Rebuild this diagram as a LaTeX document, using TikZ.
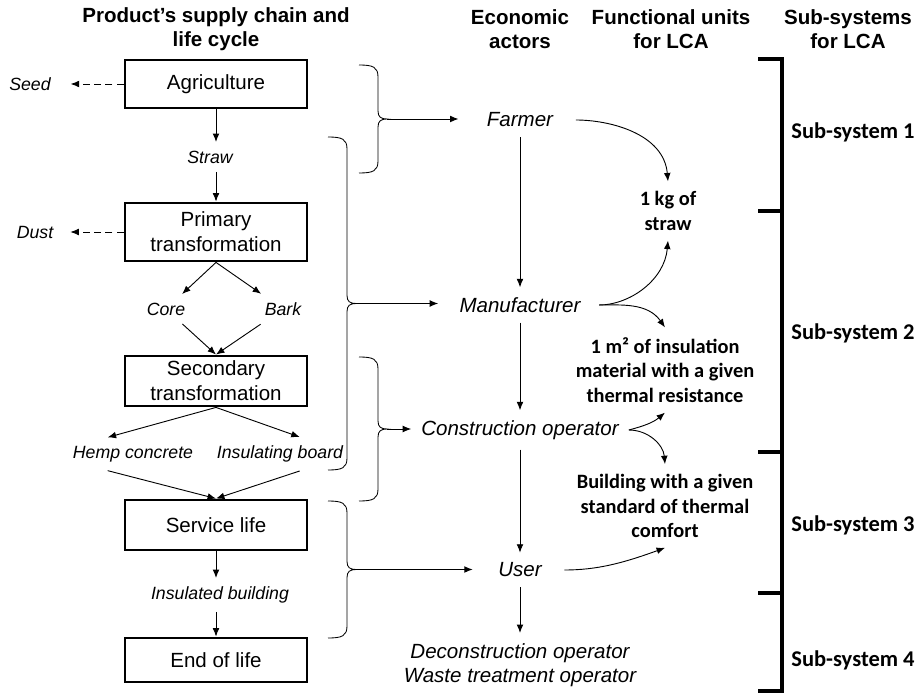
\documentclass[tikz,border=0pt]{standalone}
\usepackage{fontspec}
\setmainfont{Liberation Sans}
\newfontfamily\calibri{Carlito}
\usetikzlibrary{arrows.meta,calc}
\def\lcabrace(#1,#2,#3)#4{\draw[line width=0.6pt] (#1,#2) .. controls ({#1+14},#2) and ({#1+19},{#2+2}) .. ({#1+19},{#2+12}) -- ({#1+19},{(#2+#3)/2-8}) .. controls ({#1+19},{(#2+#3)/2-2}) and ({#1+22},{(#2+#3)/2}) .. ({#1+28},{(#2+#3)/2}) coordinate (#4) .. controls ({#1+22},{(#2+#3)/2}) and ({#1+19},{(#2+#3)/2+2}) .. ({#1+19},{(#2+#3)/2+8}) -- ({#1+19},{#3-12}) .. controls ({#1+19},{#3-2}) and ({#1+14},#3) .. (#1,#3);}
\tikzset{
	stagebox/.style={draw, line width=2pt, minimum width=4.55cm, align=center, inner sep=2pt, font=\fontsize{14.6}{17.8}\selectfont},
	flowlabel/.style={inner sep=6pt, font=\fontsize{12.6}{15}\selectfont\itshape},
	actor/.style={inner sep=7pt, align=center, font=\fontsize{14.6}{17.5}\selectfont\itshape},
	unitlabel/.style={inner sep=7pt, align=center, font=\calibri\bfseries\fontsize{14.5}{17.4}\selectfont},
	subsys/.style={font=\calibri\bfseries\fontsize{16}{19}\selectfont},
	header/.style={align=center, font=\bfseries\fontsize{14.6}{17}\selectfont},
	flow/.style={-{Latex[length=6pt,width=4.8pt]}, line width=0.65pt},
	waste/.style={flow, dash pattern=on 5pt off 3pt},
}
\begin{document}
\begin{tikzpicture}[x=0.025cm, y=-0.025cm]
		%%%%% START %%%%%
		\useasboundingbox (0,0) rectangle (920,695);
		
		\node[header] (hchain) at (216,29) {Product’s supply chain and\\life cycle};
		\node[header] (hactor) at (520,29) {Economic\\actors};
		\node[header] (hunit) at (671,29) {Functional units\\for LCA};
		\node[header] (hsys) at (848,29) {Sub-systems\\for LCA};
		
		\node[stagebox, minimum height=1.2cm] (agri) at (216,84) {Agriculture};
		\node[stagebox, minimum height=1.45cm] (prim) at (216,232) {Primary\\transformation};
		\node[stagebox, minimum height=1.25cm] (sec) at (216,381) {Secondary\\transformation};
		\node[stagebox, minimum height=1.25cm] (serv) at (216,525) {Service life};
		\node[stagebox, minimum height=1.1cm] (eol) at (216,660) {End of life};
		
		\node[flowlabel] (seed) at (30,84) {Seed};
		\node[flowlabel] (dust) at (35,232) {Dust};
		\node[flowlabel] (straw) at (210,157) {Straw};
		\node[flowlabel] (core) at (166,309) {Core};
		\node[flowlabel] (bark) at (283,309) {Bark};
		\node[flowlabel] (hemp) at (133,454) {Hemp concrete};
		\node[flowlabel] (board) at (280,454) {Insulating board};
		\node[flowlabel] (insul) at (220,595) {Insulated building};
		
		\draw[waste, shorten >=8pt] (agri) -- (seed);
		\draw[waste, shorten >=6pt] (prim) -- (dust);
		\draw[flow] (agri.south) -- (agri.south |- straw.north);
		\draw[flow] (prim.north |- straw.south) -- (prim.north);
		\draw[flow] (prim.south) -- (core);
		\draw[flow] (prim.south) -- (bark);
		\draw[flow] (core) -- (sec.north);
		\draw[flow] (bark) -- (sec.north);
		\draw[flow] (sec.south) -- ([xshift=-18pt]hemp.north);
		\draw[flow] (sec.south) -- ([xshift=14pt]board.north);
		\draw[flow] ([xshift=-18pt]hemp.south) -- (serv.north);
		\draw[flow] ([xshift=14pt]board.south) -- (serv.north);
		\draw[flow] (serv.south) -- (serv.south |- insul.north);
		\draw[flow] (eol.north |- insul.south) -- (eol.north);
		
		\lcabrace(359,65,173){b1}
		\lcabrace(328,137,470){b2}
		\lcabrace(359,357,501){b3}
		\lcabrace(328,501,638){b4}
		
		\node[actor] (farmer) at (520,120) {Farmer};
		\node[actor] (manuf) at (520,305) {Manufacturer};
		\node[actor] (constr) at (520,430) {Construction operator};
		\node[actor] (user) at (520,570) {User};
		\node[actor] (decon) at (520,665) {Deconstruction operator\\Waste treatment operator};
		
		\draw[flow, shorten >=13pt] (b1) -- (b1 -| farmer.west);
		\draw[flow, shorten >=8pt] (b2) -- (b2 -| manuf.west);
		\draw[flow] (b3) -- (b3 -| constr.west);
		\draw[flow, shorten >=11pt] (b4) -- (b4 -| user.west);
		
		\draw[flow] (farmer) -- (manuf);
		\draw[flow] (manuf) -- (constr);
		\draw[flow] (constr) -- (user);
		\draw[flow] (user) -- (decon);
		
		\node[unitlabel] (kg) at (668,211) {1 kg of\\straw};
		\node[unitlabel] (m2) at (665,370) {1 m² of insulation\\material with a given\\thermal resistance};
		\node[unitlabel] (bldg) at (665,506) {Building with a given\\standard of thermal\\comfort};
		
		\draw[flow, shorten <=9pt] (farmer.east) to[out=0, in=95] (kg.north);
		\draw[flow, shorten <=6pt] (manuf.east) to[out=0, in=-95] (kg.south);
		\draw[flow, shorten <=6pt] (manuf.east) to[out=0, in=125] (m2.north);
		\draw[flow] (constr.east) to[out=15, in=-140] (m2.south);
		\draw[flow] (constr.east) to[out=0, in=95] (bldg.north);
		\draw[flow, shorten <=9pt] (user.east) to[out=0, in=-160] (bldg.south);
		
		\draw[line width=2.5pt] (758,59) -- (782,59) -- (782,691) -- (758,691);
		\foreach \y in {211,452,593} \draw[line width=2.5pt] (758,\y) -- (782,\y);
		
		\node[subsys] (sys1) at (853,132) {Sub-system 1};
		\node[subsys] (sys2) at (853,333) {Sub-system 2};
		\node[subsys] (sys3) at (853,525) {Sub-system 3};
		\node[subsys] (sys4) at (853,660) {Sub-system 4};
		
		%%%%% END %%%%%
	\end{tikzpicture}
\end{document}
